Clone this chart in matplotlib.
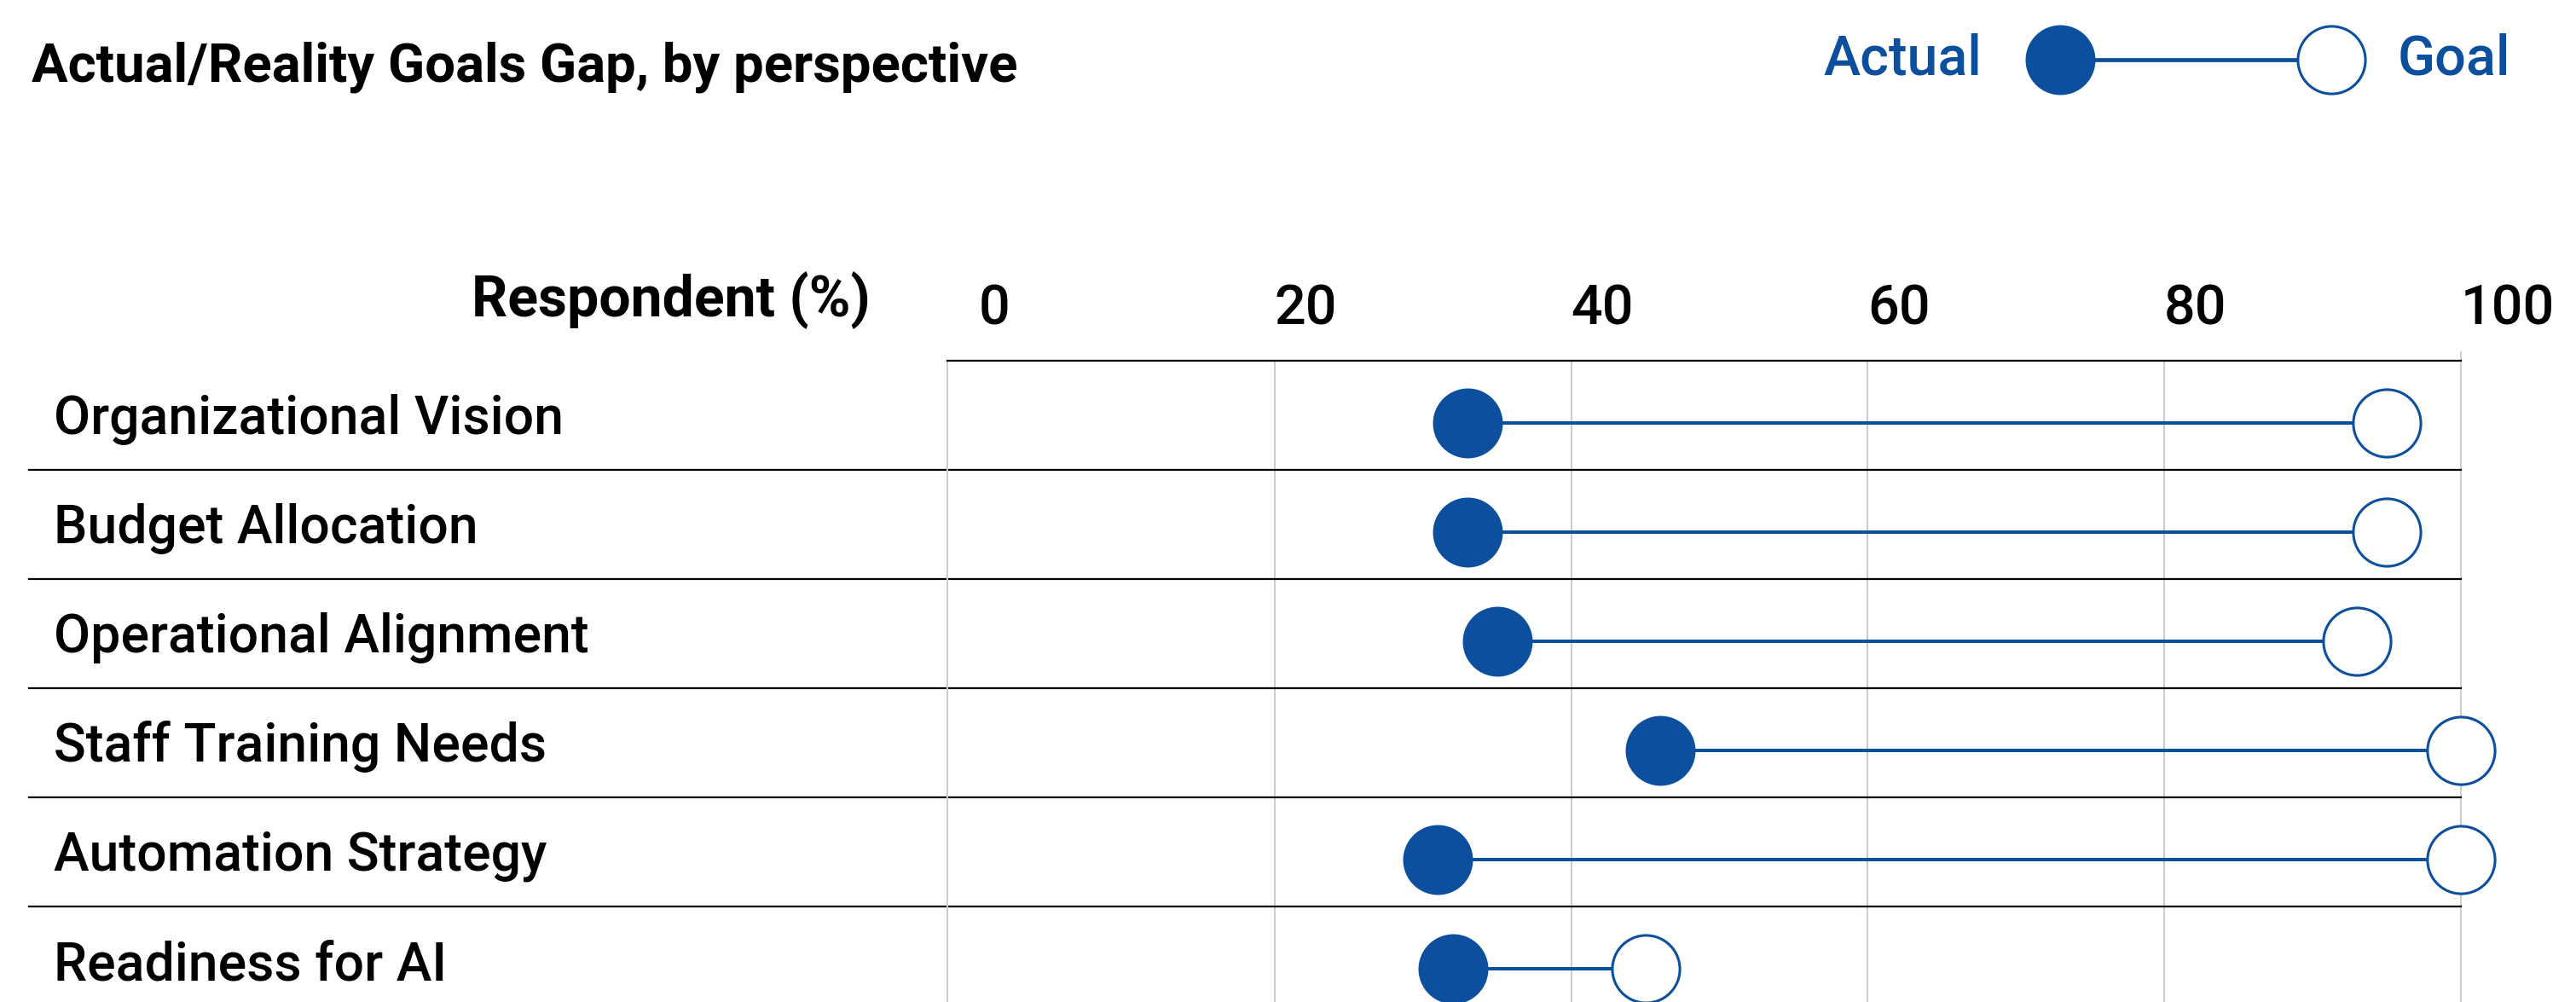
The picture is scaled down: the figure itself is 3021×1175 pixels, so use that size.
import matplotlib
matplotlib.use("Agg")
import matplotlib.pyplot as plt
from matplotlib.lines import Line2D
from matplotlib.transforms import blended_transform_factory, ScaledTranslation

plt.rcParams['font.family'] = ['Roboto', 'DejaVu Sans']

# data
categories = [
    "Organizational Vision",
    "Budget Allocation",
    "Operational Alignment",
    "Staff Training Needs",
    "Automation Strategy",
    "Readiness for AI",
]
actual = [33, 33, 35, 46, 31, 32]
goal = [95, 95, 93, 100, 100, 45]
x_ticks = [0, 20, 40, 60, 80, 100]

BLUE = "#0B4F9E"
GRID = "#cccccc"
W, H, DPI = 3021, 1175, 100

fig = plt.figure(figsize=(W / DPI, H / DPI), dpi=DPI)
fig.patch.set_facecolor("white")


def px(dx, dy):
    # offset in pixels (dy positive = up)
    return ScaledTranslation(dx / DPI, dy / DPI, fig.dpi_scale_trans)


# axes spans the plot area; last row runs past the bottom of the picture
ax_left, ax_right, ax_top = 1111, 2886, 422.7
row_h = 128
n = len(categories)
ax = fig.add_axes([ax_left / W, 1 - (ax_top + n * row_h) / H,
                   (ax_right - ax_left) / W, n * row_h / H])
ax.set_xlim(-2.08, 100)
ax.set_ylim(n - 0.5, -0.5)
ax.set_xticks([])
ax.set_yticks([])
for side in ("bottom", "right"):
    ax.spines[side].set_visible(False)
ax.spines["top"].set_color("black")
ax.spines["top"].set_linewidth(1.6)
ax.spines["left"].set_color(GRID)
ax.spines["left"].set_linewidth(1.4)

# vertical gridlines
for t in x_ticks[1:]:
    ymax = 1.0126 if t == x_ticks[-1] else 1
    ax.axvline(t, ymin=0, ymax=ymax, color=GRID, lw=1.4, zorder=0, clip_on=False)

# row separators, stretching under the labels
sep_start = (34 - ax_left) / (ax_right - ax_left)
for i in range(n - 1):
    ax.axhline(i + 0.5, xmin=sep_start, xmax=1, color="black", lw=1.6,
               clip_on=False, zorder=1)

# tick labels above the frame
tick_tr = blended_transform_factory(ax.transData, ax.transAxes) + px(0, 41.7)
for t in x_ticks:
    ax.text(t, 1, str(t), transform=tick_tr, ha="left", va="baseline",
            fontsize=46.6, fontweight="medium", color="black", clip_on=False)

ax.text(-0.051, 1, "Respondent (%)", transform=ax.transAxes + px(0, 51.7),
        ha="right", va="baseline", fontsize=47.6, fontweight="bold")

# category labels
lab_tr = blended_transform_factory(ax.transAxes, ax.transData) + px(0, -22.3)
lab_x = (63 - ax_left) / (ax_right - ax_left)
for i, c in enumerate(categories):
    ax.text(lab_x, i, c, transform=lab_tr, ha="left", va="baseline",
            fontsize=45, fontweight="medium", color="black", clip_on=False)

# dumbbells
mark_tr = ax.transData + px(0, -9)
ys = list(range(n))
for y, a, g in zip(ys, actual, goal):
    ax.plot([a, g], [y, y], color=BLUE, lw=2.9, transform=mark_tr, zorder=2)
ax.plot(actual, ys, "o", ms=59, mfc=BLUE, mec=BLUE, mew=0, ls="none",
        transform=mark_tr, zorder=3, clip_on=False)
ax.plot(goal, ys, "o", ms=57, mfc="white", mec=BLUE, mew=2.2, ls="none",
        transform=mark_tr, zorder=3, clip_on=False)

# title
fig.text(37 / W, 1 - 95.7 / H, "Actual/Reality Goals Gap, by perspective",
         ha="left", va="baseline", fontsize=45.6, fontweight="bold")

# legend
ly = 1 - 70 / H
fig.text(2138.5 / W, 1 - 87.7 / H, "Actual", ha="left", va="baseline",
         fontsize=46.6, color=BLUE, fontweight="medium")
fig.text(2812 / W, 1 - 87.7 / H, "Goal", ha="left", va="baseline",
         fontsize=46.6, color=BLUE, fontweight="medium")
fig.add_artist(Line2D([2457 / W, 2694 / W], [ly, ly], transform=fig.transFigure,
                      color=BLUE, lw=3.4))
fig.add_artist(Line2D([2416 / W], [ly], transform=fig.transFigure, marker="o",
                      ms=59, mfc=BLUE, mec=BLUE, mew=0, ls="none"))
fig.add_artist(Line2D([2734 / W], [ly], transform=fig.transFigure, marker="o",
                      ms=57, mfc="white", mec=BLUE, mew=2.2, ls="none"))

fig.savefig("out.png", dpi=DPI, facecolor="white")
